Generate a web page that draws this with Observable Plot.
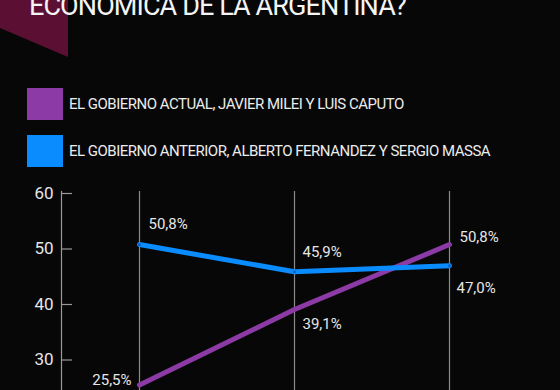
<!DOCTYPE html>
<html>
<head>
<meta charset="utf-8">
<script src="https://cdn.jsdelivr.net/npm/d3@7"></script>
<script src="https://cdn.jsdelivr.net/npm/@observablehq/plot@0.6"></script>
<style>
  html, body { margin: 0; padding: 0; background: #070707; width: 560px; height: 390px; overflow: hidden; }
  body { position: relative; font-family: "Roboto", sans-serif; color: #f0f0f0; }
  .tab { position: absolute; left: 0; top: 0; width: 68px; height: 57px; background: #5a0f33;
         clip-path: polygon(0 0, 100% 0, 100% 100%, 0 49%); }
  .title { position: absolute; left: 29px; top: -10px; font-size: 27px; line-height: 32px; letter-spacing: -0.9px; color: #f4f4f4; white-space: nowrap; }
  .legend { position: absolute; left: 27px; top: 88px; }
  .item { display: flex; align-items: center; height: 32px; margin-bottom: 15px; font-size: 15px; letter-spacing: -0.5px; color: #ececec; white-space: nowrap; }
  .sw { width: 36px; height: 32px; margin-right: 6px; }
  #chart { position: absolute; left: 0; top: 180px; }
</style>
</head>
<body>
<div class="tab"></div>
<div class="title">ECONÓMICA DE LA ARGENTINA?</div>
<div class="legend" id="legend"></div>
<div id="chart"></div>
<script>
const periods = ["Medición 1", "Medición 2", "Medición 3"];
const seriesNames = [
  "EL GOBIERNO ACTUAL, JAVIER MILEI Y LUIS CAPUTO",
  "EL GOBIERNO ANTERIOR, ALBERTO FERNANDEZ Y SERGIO MASSA"
];
const actualValues = [25.5, 39.1, 50.8];
const anteriorValues = [50.8, 45.9, 47.0];
const yTicks = [30, 40, 50, 60];
const colors = ["#8b3aa6", "#0a8cff"];

const data = [];
periods.forEach((p, i) => {
  data.push({period: p, series: seriesNames[0], value: actualValues[i], idx: i});
  data.push({period: p, series: seriesNames[1], value: anteriorValues[i], idx: i});
});
const fmt = v => v.toFixed(1).replace(".", ",") + "%";

// legend
const legend = document.getElementById("legend");
seriesNames.forEach((s, i) => {
  const it = document.createElement("div");
  it.className = "item";
  it.innerHTML = `<div class="sw" style="background:${colors[i]}"></div><span>${s}</span>`;
  legend.appendChild(it);
});

// label placement (style) per series & index
const labelOffsets = {
  [seriesNames[0]]: [{dx: -8, dy: -5, a: "end"}, {dx: 8, dy: 15, a: "start"}, {dx: 10, dy: -7, a: "start"}],
  [seriesNames[1]]: [{dx: 9, dy: -20, a: "start"}, {dx: 8, dy: -20, a: "start"}, {dx: 7, dy: 23, a: "start"}]
};
const labelMarks = [];
seriesNames.forEach(s => {
  labelOffsets[s].forEach((o, i) => {
    labelMarks.push(Plot.text(data.filter(d => d.series === s && d.idx === i), {
      x: "period", y: "value", text: d => fmt(d.value),
      dx: o.dx, dy: o.dy, textAnchor: o.a, fill: "#e6e6e6", fontSize: 15
    }));
  });
});

const W = 560, mR = 111;
const chart = Plot.plot({
  width: W,
  height: 270,
  marginTop: 13,
  marginLeft: 61,
  marginRight: mR,
  marginBottom: 35,
  style: {background: "transparent", color: "#e6e6e6", fontFamily: "Roboto, sans-serif", fontSize: "17px", overflow: "visible"},
  x: {type: "point", domain: periods, range: [139, 449], padding: 0, axis: null},
  y: {domain: [20, 60], axis: null},
  color: {domain: seriesNames, range: colors},
  marks: [
    Plot.ruleX(periods, {stroke: "#8a8a8a", strokeWidth: 1.2, insetTop: -2}),
    Plot.frame({anchor: "left", stroke: "#9a9a9a", strokeWidth: 1.2, insetTop: -2}),
    Plot.tickY(yTicks, {y: d => d, stroke: "#9a9a9a", strokeWidth: 1.2, insetRight: (W - mR) - 72}),
    Plot.axisY(yTicks, {anchor: "left", tickSize: 0, tickPadding: 8, fontSize: 17, fill: "#e6e6e6", label: null}),
    Plot.line(data, {x: "period", y: "value", z: "series", stroke: "series", strokeWidth: 5, strokeLinecap: "round", strokeLinejoin: "round"}),
    Plot.dot(data.filter(d => d.series === seriesNames[1]), {x: "period", y: "value", r: 1.5, fill: "#0660c0"}),
    ...labelMarks
  ]
});
document.getElementById("chart").appendChild(chart);
</script>
</body>
</html>
